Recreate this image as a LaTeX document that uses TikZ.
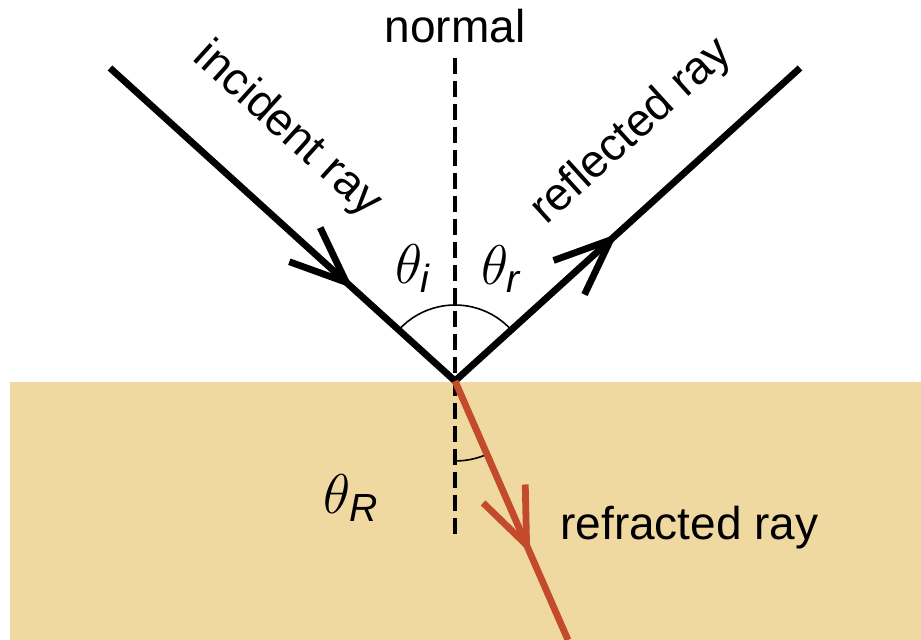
\documentclass[tikz,border=0pt]{standalone}
\usepackage{fix-cm}
\usepackage{amsmath}
\usepackage{fontspec}
\setmainfont{Liberation Sans}
\usetikzlibrary{arrows.meta,decorations.markings}
\definecolor{sandTan}{RGB}{239,217,161}
\definecolor{rayRed}{RGB}{196,74,44}
\tikzset{
  ray/.style={line width=3.4pt, line join=miter},
  normalline/.style={line width=2.2pt, dash pattern=on 8pt off 3.5pt},
  anglearc/.style={line width=0.8pt},
  raylabel/.style={font=\fontsize{23}{28}\selectfont, inner sep=0pt},
  anglabel/.style={font=\fontsize{28}{32}\selectfont, inner sep=0pt}
}

\begin{document}
\begin{tikzpicture}[x=0.5pt,y=0.5pt]
  \useasboundingbox (0,0) rectangle (921,640);
  \fill[sandTan] (10,0) rectangle (921,258);

  \coordinate (P) at (455,259);
  \coordinate (inc) at (110,572);
  \coordinate (refl) at (800,572);
  \coordinate (refr) at (568,0);
  \coordinate (ntop) at (455,582);
  \coordinate (nbot) at (455,102);

  \draw[normalline] (ntop) -- (nbot);
  \draw[anglearc] ([shift={(42.2:76)}]P) arc[start angle=42.2, end angle=137.8, radius=76];
  \draw[anglearc] ([shift={(-90:80)}]P) arc[start angle=-90, end angle=-66.4, radius=80];

  \draw[ray, decoration={markings,
      mark=at position 0.352 with {\arrow{Straight Barb[length=28pt,width=23pt]}},
      mark=at position 0.735 with {\arrow{Straight Barb[length=28pt,width=23pt]}}},
    postaction={decorate}] (inc) -- (P) -- (refl);
  \draw[ray, rayRed, decoration={markings,
      mark=at position 0.665 with {\arrow{Straight Barb[length=28pt,width=23pt]}}},
    postaction={decorate}] (P) -- (refr);

  \node[raylabel] (normallabel) at (455,613.5) {normal};
  \node[raylabel, rotate=-42.2] (inclabel) at (287,510) {incident ray};
  \node[raylabel, rotate=42.2] (refllabel) at (632,508) {reflected ray};
  \node[raylabel, anchor=base west] (refrlabel) at (560,100) {refracted ray};
  \node[anglabel] (thetai) at (413,371) {$\theta_{\text{\itshape i}}$};
  \node[anglabel] (thetar) at (501,371) {$\theta_{\text{\itshape r}}$};
  \node[anglabel] (thetaR) at (351,142) {$\theta_{\text{\itshape R}}$};
\end{tikzpicture}
\end{document}
